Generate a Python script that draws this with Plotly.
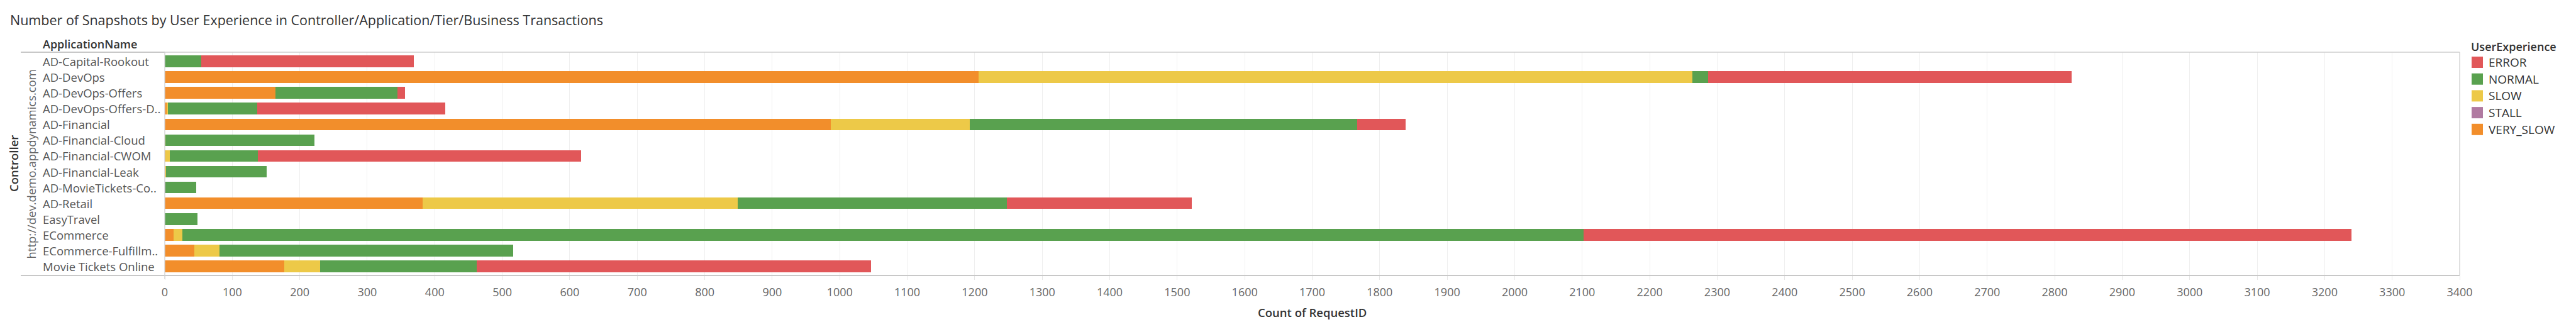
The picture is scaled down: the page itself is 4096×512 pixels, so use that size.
import plotly.graph_objects as go

# ---------------- data ----------------
apps = ["AD-Capital-Rookout", "AD-DevOps", "AD-DevOps-Offers", "AD-DevOps-Offers-D..",
        "AD-Financial", "AD-Financial-Cloud", "AD-Financial-CWOM", "AD-Financial-Leak",
        "AD-MovieTickets-Co..", "AD-Retail", "EasyTravel", "ECommerce",
        "ECommerce-Fulfillm..", "Movie Tickets Online"]
very_slow = [0, 1206, 164, 3, 987, 0, 1, 1, 0, 382, 0, 13, 44, 177]
stall     = [0, 0, 0, 0, 0, 0, 0, 0, 1, 0, 0, 0, 0, 0]
slow      = [0, 1057, 0, 2, 206, 1, 6, 1, 0, 467, 0, 13, 37, 53]
normal    = [54, 24, 181, 132, 574, 221, 131, 149, 46, 399, 48, 2076, 435, 232]
error     = [315, 538, 11, 279, 71, 0, 479, 0, 0, 274, 0, 1138, 0, 584]

legend_names = ["ERROR", "NORMAL", "SLOW", "STALL", "VERY_SLOW"]
colors = {"ERROR": "#E15759", "NORMAL": "#59A14F", "SLOW": "#EDC948",
          "STALL": "#B07AA1", "VERY_SLOW": "#F28E2B"}
stack_order = [("VERY_SLOW", very_slow), ("STALL", stall), ("SLOW", slow),
               ("NORMAL", normal), ("ERROR", error)]
x_ticks = list(range(0, 3401, 100))

title_text = "Number of Snapshots by User Experience in Controller/Application/Tier/Business Transactions"
controller_value = "http://dev.demo.appdynamics.com"

# ---------------- layout geometry (px) ----------------
W, H = 4096, 512
ML, MR, MT, MB = 254, 193, 75, 82
PW, PH = W - ML - MR, H - MT - MB
FONT = "Open Sans"


def px(xp):
    return (xp - ML) / PW


def py(yp):
    return 1 - (yp - MT) / PH


fig = go.Figure()
for name, vals in stack_order:
    fig.add_trace(go.Bar(y=apps, x=vals, name=name, orientation="h",
                         marker=dict(color=colors[name], line=dict(width=0)),
                         showlegend=False))

ann = []
# title
ann.append(dict(text=title_text, x=px(6), y=py(24), xref="paper", yref="paper",
                xanchor="left", yanchor="middle", showarrow=False,
                font=dict(family=FONT, size=21.5, color="#333333")))
# header
ann.append(dict(text="ApplicationName", x=px(58), y=py(62), xref="paper", yref="paper",
                xanchor="left", yanchor="middle", showarrow=False,
                font=dict(family=FONT, size=18, color="#333333", weight=600)))
# row labels
for a in apps:
    ann.append(dict(text=a, x=px(58), y=a, xref="paper", yref="y",
                    xanchor="left", yanchor="middle", showarrow=False,
                    font=dict(family=FONT, size=18.5, color="#555555")))
# Controller header + value (rotated)
ann.append(dict(text="Controller", x=px(13.5), y=0.5, xref="paper", yref="paper",
                xanchor="center", yanchor="middle", textangle=-90, showarrow=False,
                font=dict(family=FONT, size=18.5, color="#333333", weight=600)))
ann.append(dict(text=controller_value, x=px(41), y=0.5, xref="paper", yref="paper",
                xanchor="center", yanchor="middle", textangle=-90, showarrow=False,
                font=dict(family=FONT, size=18.5, color="#666666")))
# x-axis title
ann.append(dict(text="Count of RequestID", x=0.5, y=py(488), xref="paper", yref="paper",
                xanchor="center", yanchor="middle", showarrow=False,
                font=dict(family=FONT, size=18.5, color="#333333", weight=600)))
# legend
ann.append(dict(text="UserExperience", x=px(3919), y=py(65.5), xref="paper", yref="paper",
                xanchor="left", yanchor="middle", showarrow=False,
                font=dict(family=FONT, size=18, color="#333333", weight=600)))

shapes = []
for i, name in enumerate(legend_names):
    cy = 91 + i * 26.7
    shapes.append(dict(type="rect", xref="paper", yref="paper",
                       x0=px(3922), x1=px(3940), y0=py(cy - 9), y1=py(cy + 9),
                       fillcolor=colors[name], line=dict(width=0)))
    ann.append(dict(text=name, x=px(3947), y=py(cy), xref="paper", yref="paper",
                    xanchor="left", yanchor="middle", showarrow=False,
                    font=dict(family=FONT, size=19, color="#333333")))

# frame lines
line_c = "#cfcfcf"
shapes += [
    dict(type="line", xref="paper", yref="paper", x0=px(25), x1=px(ML), y0=1, y1=1,
         line=dict(color="#c8c8c8", width=2)),
    dict(type="line", xref="paper", yref="paper", x0=0, x1=1, y0=1, y1=1,
         line=dict(color=line_c, width=1.3)),
    dict(type="line", xref="paper", yref="paper", x0=px(25), x1=1, y0=0, y1=0,
         line=dict(color="#c8c8c8", width=2)),
    dict(type="line", xref="paper", yref="paper", x0=0, x1=0, y0=py(436), y1=1,
         line=dict(color=line_c, width=1.3)),
    dict(type="line", xref="paper", yref="paper", x0=1, x1=1, y0=0, y1=1,
         line=dict(color=line_c, width=1.3)),
]

fig.update_layout(
    width=W, height=H,
    margin=dict(l=ML, r=MR, t=MT, b=MB, pad=0),
    paper_bgcolor="white", plot_bgcolor="white",
    barmode="stack", bargap=0.26,
    showlegend=False,
    annotations=ann, shapes=shapes,
    font=dict(family=FONT, color="#666666"),
)
fig.update_xaxes(range=[0, 3400], tickmode="array", tickvals=x_ticks,
                 ticktext=[str(v) for v in x_ticks],
                 showgrid=True, gridcolor="#efefef", gridwidth=1,
                 zeroline=False, showline=False,
                 ticks="outside", ticklen=6, tickcolor="#e6e6e6", tickwidth=1,
                 tickfont=dict(family=FONT, size=18, color="#666666"),
                 ticklabelstandoff=4)
fig.update_yaxes(categoryorder="array", categoryarray=apps, autorange="reversed",
                 showticklabels=False, showgrid=False, zeroline=False, showline=False,
                 ticks="")

fig.write_html("out.html")
